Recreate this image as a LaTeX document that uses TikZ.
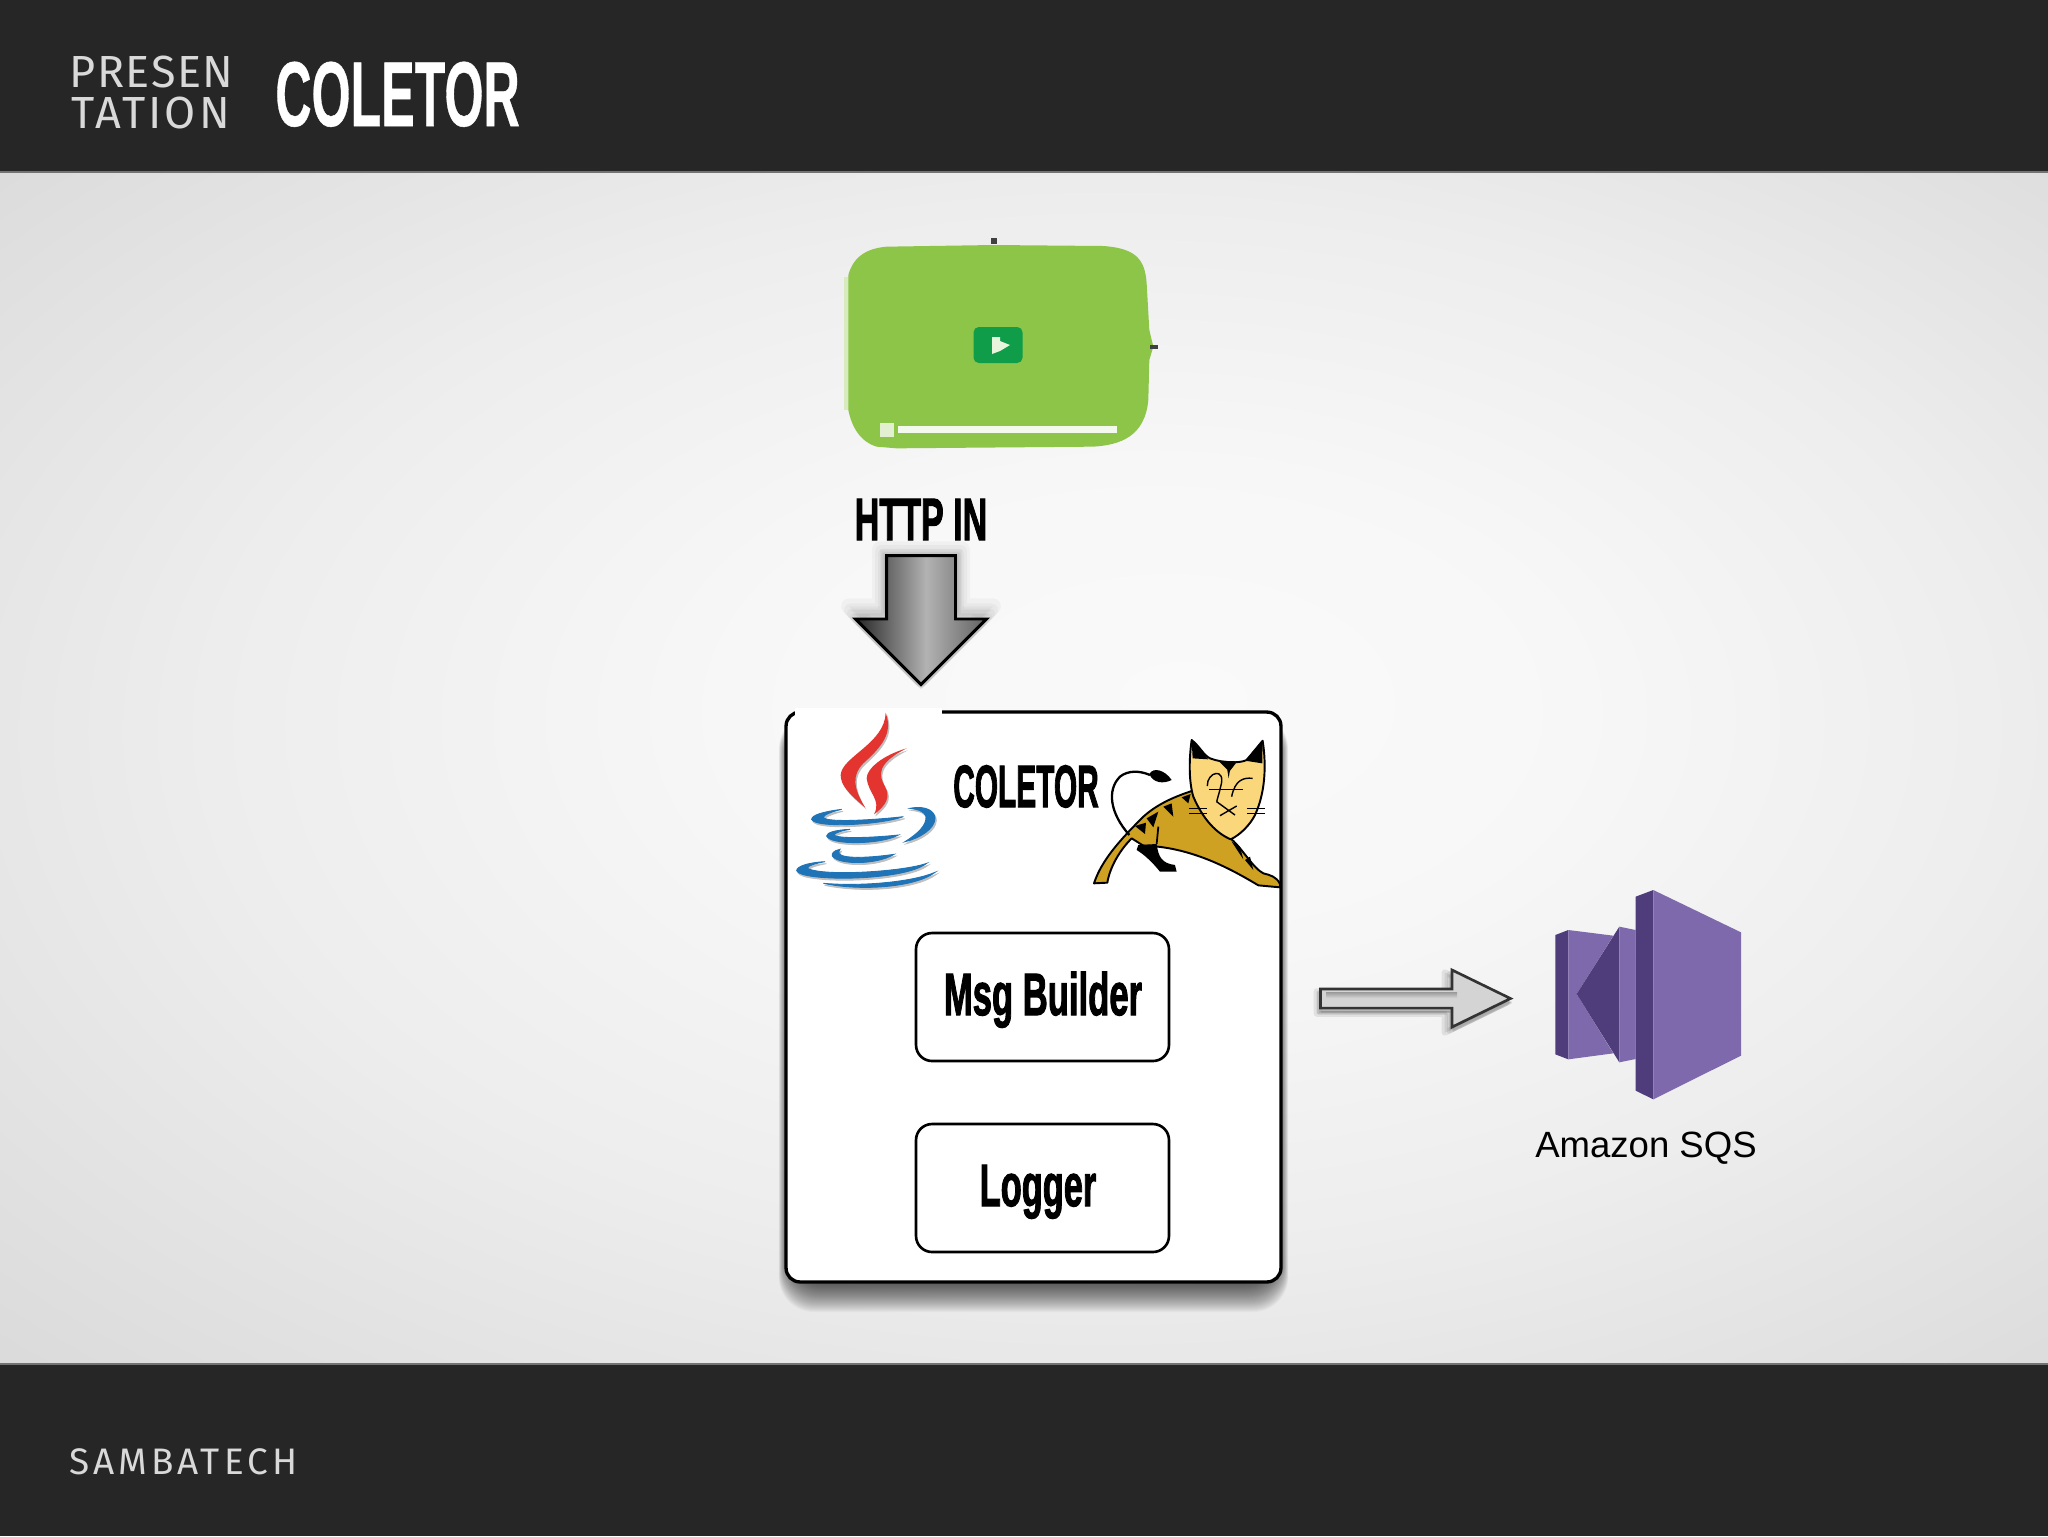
\documentclass[tikz,border=0pt]{standalone}
\usepackage{fontspec}
\setmainfont{Liberation Sans}
\newfontfamily\titlefont[FakeBold=0.6]{Liberation Sans}
\newfontfamily\gothicfont[FakeBold=2.2]{Liberation Sans}
\newfontfamily\brandfont{Fira Sans}
\usetikzlibrary{shapes.arrows}
\definecolor{barcol}{HTML}{262626}
\definecolor{playgreen}{HTML}{8DC549}
\definecolor{sqslight}{HTML}{7E69AC}
\definecolor{sqsdark}{HTML}{4F3C7A}
\definecolor{javared}{HTML}{E3342F}
\definecolor{javablue}{HTML}{1F73B7}
\definecolor{catgold}{HTML}{CFA122}
\definecolor{catface}{HTML}{FBD77C}
\pgfdeclareradialshading{stagebg}{\pgfpoint{4bp}{3bp}}{
  color(0bp)=(white!98!black); color(10bp)=(white!97!black); color(22bp)=(white!93!black);
  color(36bp)=(white!86!black); color(50bp)=(white!84!black)}
\pgfdeclarehorizontalshading{steelbar}{100bp}{
  color(0bp)=(black!85); color(25bp)=(black!85); color(52bp)=(black!30);
  color(75bp)=(black!62); color(100bp)=(black!62)}
\newcommand{\squeezed}[2]{\scalebox{#1}[1]{#2}}
\newcommand{\javaflames}{
  \fill (347,38) .. controls (370,100) and (335,140) .. (280,190) .. controls (245,225) and (250,265) .. (285,322) .. controls (235,280) and (212,255) .. (212,225) .. controls (215,170) and (345,130) .. cycle;
  \fill (410,145) .. controls (340,165) and (290,205) .. (290,235) .. controls (295,280) and (335,300) .. (312,343) .. controls (350,315) and (362,290) .. (345,260) .. controls (325,225) and (320,190) .. cycle;
}
\newcommand{\javacups}{
  \filldraw[line width=0.5pt] (215,328) .. controls (160,335) and (125,345) .. (125,358) .. controls (135,385) and (330,375) .. (400,350) .. controls (330,358) and (170,370) .. (160,352) .. controls (160,345) and (185,335) .. cycle;
  \filldraw[line width=0.5pt] (420,325) .. controls (470,315) and (495,335) .. (495,355) .. controls (495,385) and (450,415) .. (405,425) .. controls (445,400) and (470,375) .. (468,350) .. controls (465,335) and (445,328) .. cycle;
  \filldraw[line width=0.5pt] (240,388) .. controls (195,390) and (170,398) .. (170,408) .. controls (180,435) and (330,435) .. (385,405) .. controls (320,412) and (205,418) .. (192,405) .. controls (195,398) and (215,392) .. cycle;
  \filldraw[line width=0.5pt] (210,448) .. controls (190,452) and (185,460) .. (187,468) .. controls (205,495) and (320,495) .. (372,463) .. controls (310,472) and (225,478) .. (208,462) .. controls (205,458) and (207,452) .. cycle;
  \filldraw[line width=0.5pt] (165,485) .. controls (110,488) and (80,500) .. (80,512) .. controls (90,545) and (400,545) .. (470,490) .. controls (400,515) and (160,530) .. (112,505) .. controls (112,498) and (135,490) .. cycle;
  \filldraw[line width=0.5pt] (160,550) .. controls (280,575) and (440,560) .. (495,517) .. controls (430,545) and (280,560) .. cycle;
}
\tikzset{
  bar/.style={fill=barcol,draw=none},
  gothic/.style={anchor=base,inner sep=0pt,text=black,font=\gothicfont\bfseries\fontsize{34}{34}\selectfont},
  brandtext/.style={anchor=base west,inner sep=0pt,text=white!85!black,font=\brandfont\fontsize{25.6}{25.6}\selectfont},
  innerbox/.style={draw=black,line width=1.5pt,rounded corners=0.32cm,fill=white,minimum width=5.06cm,minimum height=2.56cm},
  downarrow/.style={single arrow,anchor=tip,inner xsep=0pt,inner ysep=0.66cm,minimum height=2.58cm,single arrow head extend=0.62cm,single arrow tip angle=90},
  rightarrow/.style={single arrow,anchor=tip,inner xsep=0pt,inner ysep=0.165cm,minimum height=3.8cm,single arrow head extend=0.38cm,single arrow tip angle=52},
  zoomed/.style={x=0.00667cm,y=-0.00667cm}
}
\begin{document}
\begin{tikzpicture}[x=0.02cm,y=-0.02cm]
    \useasboundingbox (0,0) rectangle (2048,1536);
    \shade[shading=stagebg] (0,172) rectangle (2048,1364);
    \fill[bar] (0,0) rectangle (2048,172);
    \fill[bar] (0,1364) rectangle (2048,1536);
    \draw[black!55,line width=0.6pt] (0,172) -- (2048,172);
    \draw[black!55,line width=0.6pt] (0,1364) -- (2048,1364);
    % header and footer
    \node[brandtext] (presen) at (69,87) {\addfontfeature{LetterSpace=3.5}PRESEN};
    \node[brandtext] (tation) at (71,128) {\addfontfeature{LetterSpace=7}TATION};
    \node[anchor=base west,inner sep=0pt,text=white,font=\titlefont\bfseries\fontsize{52.4}{52.4}\selectfont] (title) at (275,126) {\squeezed{0.545}{COLETOR}};
    \node[anchor=base west,inner sep=0pt,text=white!85!black,font=\brandfont\fontsize{21}{21}\selectfont] (brand) at (69,1474) {\addfontfeature{LetterSpace=11}SAMBATECH};
    % player
    \begin{scope}[shift={(820,220)},zoomed]
      \fill[playgreen!35!white] (72,170) rectangle (90,570);
      \fill[playgreen] (85,165) .. controls (100,110) and (140,85) .. (200,80) -- (520,75) -- (850,78) .. controls (950,85) and (975,120) .. (980,190) -- (988,330) -- (1000,380) -- (988,420) -- (985,540) .. controls (975,650) and (900,675) .. (820,680) -- (230,685) -- (170,680) .. controls (120,665) and (95,620) .. (85,570) -- cycle;
    \end{scope}
    \node[inner sep=0pt,minimum width=0pt,minimum height=0pt] (player) at (998,346) {};
    \node[fill=black!75,inner sep=0pt,minimum width=3pt,minimum height=3.5pt] (tickn) at (994,241) {};
    \node[fill=black!75,inner sep=0pt,minimum width=4.5pt,minimum height=2.5pt] (ticke) at (1154,347) {};
    \node[fill={rgb,255:red,15;green,157;blue,74},rounded corners=3pt,minimum width=0.98cm,minimum height=0.72cm,inner sep=0pt] (playicon) at (998,345) {};
    \fill[white!80!playgreen] (992,337) -- (1000,337) -- (1000,341) -- (1010,345) -- (1000,351) -- (992,354) -- cycle;
    \node[fill=white!75!playgreen,minimum size=0.28cm,inner sep=0pt] (seekknob) at (887,430) {};
    \node[fill=white!90!playgreen,minimum width=4.38cm,minimum height=0.14cm,inner sep=0pt] (seekbar) at (1007.5,429.5) {};
    % http in
    \node[gothic] (httpin) at (921,540) {\squeezed{0.57}{HTTP IN}};
    % main box
    \foreach \g in {32,31,...,0}
      \fill[black,opacity=0.028,rounded corners=0.7cm] (789-0.32*\g,722-0.25*\g) rectangle (1278+0.32*\g,1280+\g);
    \node[draw=black,line width=1.9pt,fill=white,rounded corners=0.28cm,minimum width=9.9cm,minimum height=11.4cm,inner sep=0pt] (coletor) at (1033.5,997) {};
    \fill[white] (795,708) rectangle (942,716);
    \path (httpin.south) -- (httpin.south |- coletor.north) coordinate[pos=0.86] (httptip);
    \foreach \w in {16,13,...,1}
      \node[downarrow,rotate=-90,fill=black,draw=black,opacity=0.03,line width=\w*0.569pt,line join=round] at ([shift={(0,3)}]httptip) {};
    \node[downarrow,rotate=-90,draw=black,line width=1.7pt,shading=steelbar] (httparrow) at (httptip) {};
    \node[innerbox] (msgbuilder) at (1042.5,997) {};
    \node[gothic] (msgtext) at (1043,1015) {\squeezed{0.58}{Msg Builder}};
    \node[innerbox] (logger) at (1042.5,1188) {};
    \node[gothic] (loggertext) at (1038,1206) {\squeezed{0.576}{Logger}};
    \node[gothic] (innertitle) at (1026,807) {\squeezed{0.5}{COLETOR}};
    % java logo
    \begin{scope}[shift={(770,700)},zoomed]
      \begin{scope}[shift={(4,6)},black!25]
        \javaflames
        \javacups
      \end{scope}
      \begin{scope}[javared]
        \javaflames
      \end{scope}
      \begin{scope}[javablue]
        \javacups
      \end{scope}
    \end{scope}
    % tomcat logo
    \begin{scope}[shift={(770,700)},zoomed]
      \draw[black,line width=1.1pt,fill=catgold,line join=round] (972,550) .. controls (995,480) and (1050,420) .. (1120,350) .. controls (1170,305) and (1230,285) .. (1268,272) -- (1385,418) .. controls (1420,450) and (1450,505) .. (1480,520) .. controls (1500,525) and (1520,530) .. (1530,552) -- (1530,562) -- (1465,556) .. controls (1380,505) and (1260,440) .. (1120,437) -- (1085,415) .. controls (1050,450) and (1020,500) .. (1012,548) -- cycle;
      \fill[black] (1105,435) -- (1160,432) .. controls (1165,470) and (1175,490) .. (1215,495) -- (1220,515) -- (1170,515) .. controls (1150,490) and (1125,465) .. (1100,450) -- cycle;
      \draw[black,line width=1pt] (1165,380) -- (1160,432);
      \draw[black,line width=1.3pt] (1078,405) .. controls (1020,340) and (1010,270) .. (1050,230) .. controls (1075,210) and (1110,212) .. (1140,225);
      \fill[black] (1138,222) .. controls (1150,200) and (1185,210) .. (1205,240) .. controls (1180,252) and (1150,250) .. cycle;
      \fill[black] (1180,320) -- (1210,350) -- (1205,310) -- cycle;
      \fill[black] (1130,355) -- (1150,382) -- (1165,335) -- cycle;
      \fill[black] (1235,292) -- (1255,310) -- (1262,282) -- cycle;
      \fill[black] (1095,378) -- (1125,402) -- (1128,368) -- cycle;
      \fill[black] (1385,425) -- (1420,478) -- (1410,440) -- cycle;
      \fill[black] (1425,480) -- (1450,510) -- (1440,470) -- cycle;
      \draw[black,line width=1.1pt,fill=catface,line join=round] (1265,120) .. controls (1290,140) and (1300,165) .. (1320,175) .. controls (1360,190) and (1410,190) .. (1430,180) -- (1478,122) .. controls (1490,200) and (1485,280) .. (1455,345) .. controls (1440,375) and (1410,405) .. (1382,418) .. controls (1340,400) and (1300,360) .. (1270,290) .. controls (1255,240) and (1258,170) .. cycle;
      \fill[black] (1265,120) -- (1315,178) -- (1268,175) -- cycle;
      \fill[black] (1478,122) -- (1425,182) -- (1477,190) -- cycle;
      \fill[black] (1345,182) -- (1378,215) -- (1402,184) -- cycle;
      \fill[black] (1380,210) -- (1376,235) -- (1372,210) -- cycle;
      \draw[black,line width=0.8pt] (1312,258) .. controls (1310,215) and (1370,200) .. (1352,260) .. controls (1345,290) and (1342,295) .. (1340,305);
      \draw[black,line width=0.8pt] (1385,290) .. controls (1395,240) and (1420,232) .. (1448,235);
      \draw[black,line width=0.8pt] (1318,268) -- (1420,268) (1258,325) -- (1312,325) (1258,340) -- (1312,340) (1432,325) -- (1485,325) (1432,340) -- (1485,340);
      \draw[black,line width=0.8pt] (1340,305) -- (1395,345) (1350,347) -- (1400,318);
    \end{scope}
    % amazon sqs
    \begin{scope}[shift={(1300,870)},zoomed]
      \fill[sqsdark] (766,195) -- (805,180) -- (805,568) -- (766,553) -- cycle;
      \fill[sqslight] (805,180) -- (940,197) -- (830,372) -- (940,550) -- (805,568) -- cycle;
      \fill[sqsdark] (958,170) -- (830,372) -- (958,577) -- cycle;
      \fill[sqslight] (958,170) -- (1007,180) -- (1007,567) -- (958,577) -- cycle;
      \fill[sqsdark] (1007,80) -- (1060,60) -- (1060,688) -- (1007,662) -- cycle;
      \fill[sqslight] (1060,60) -- (1323,187) -- (1323,557) -- (1060,688) -- cycle;
    \end{scope}
    \node[anchor=base,inner sep=0pt,font=\fontsize{20.8}{20.8}\selectfont] (sqs) at (1646,1157) {Amazon SQS};
    \coordinate (arrowtip) at (1513.5,998.5);
    \foreach \w in {6,4,2}
      \node[rightarrow,draw=black,fill=black,opacity=0.08,line width=\w*0.569pt,line join=round] at ([shift={(0,4)}]arrowtip) {};
    \node[rightarrow,draw=black!80,line width=1.5pt,fill=black!17] (sqsarrow) at (arrowtip) {};
    \fill[top color=black!40,bottom color=black!17] (1326,992) rectangle (1457,998);
\end{tikzpicture}
\end{document}
